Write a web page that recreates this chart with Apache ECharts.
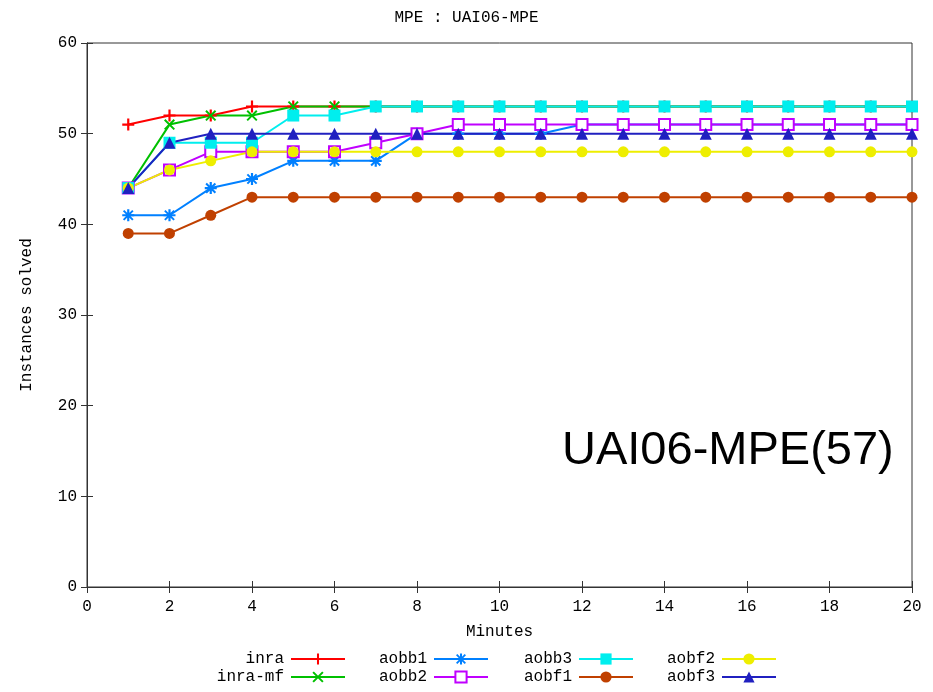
<!DOCTYPE html>
<html>
<head>
<meta charset="utf-8">
<script src="https://cdn.jsdelivr.net/npm/echarts@6/dist/echarts.min.js"></script>
<style>
  html, body { margin: 0; padding: 0; background: #fff; }
  #chart { width: 933px; height: 692px; }
</style>
</head>
<body>
<div id="chart"></div>
<script>
// Minutes elapsed (x) and cumulative number of solved instances (y)
const minutes = [1, 2, 3, 4, 5, 6, 7, 8, 9, 10, 11, 12, 13, 14, 15, 16, 17, 18, 19, 20];

const inra    = [51, 52, 52, 53, 53, 53, 53, 53, 53, 53, 53, 53, 53, 53, 53, 53, 53, 53, 53, 53];
const inraMf  = [44, 51, 52, 52, 53, 53, 53, 53, 53, 53, 53, 53, 53, 53, 53, 53, 53, 53, 53, 53];
const aobb1   = [41, 41, 44, 45, 47, 47, 47, 50, 50, 50, 50, 51, 51, 51, 51, 51, 51, 51, 51, 51];
const aobb2   = [44, 46, 48, 48, 48, 48, 49, 50, 51, 51, 51, 51, 51, 51, 51, 51, 51, 51, 51, 51];
const aobb3   = [44, 49, 49, 49, 52, 52, 53, 53, 53, 53, 53, 53, 53, 53, 53, 53, 53, 53, 53, 53];
const aobf1   = [39, 39, 41, 43, 43, 43, 43, 43, 43, 43, 43, 43, 43, 43, 43, 43, 43, 43, 43, 43];
const aobf2   = [44, 46, 47, 48, 48, 48, 48, 48, 48, 48, 48, 48, 48, 48, 48, 48, 48, 48, 48, 48];
const aobf3   = [44, 49, 50, 50, 50, 50, 50, 50, 50, 50, 50, 50, 50, 50, 50, 50, 50, 50, 50, 50];

const seriesNames = ['inra', 'inra-mf', 'aobb1', 'aobb2', 'aobb3', 'aobf1', 'aobf2', 'aobf3'];
const seriesValues = [inra, inraMf, aobb1, aobb2, aobb3, aobf1, aobf2, aobf3];

// Axis ranges and tick spacing
const xMin = 0, xMax = 20, xStep = 2;
const yMin = 0, yMax = 60, yStep = 10;

const chartTitle = 'MPE : UAI06-MPE';
const xTitle = 'Minutes';
const yTitle = 'Instances solved';
const annotation = 'UAI06-MPE(57)';

// Classic plotting-program palette and point shapes
const colors = ['#ff0000', '#00c000', '#0080ff', '#c000ff', '#00eeee', '#c04000', '#eeee00', '#2020c0'];
const PLUS = 'path://M0,4.5H11V6.5H0Z M4.5,0H6.5V11H4.5Z';
const CROSS = 'path://M0,1.4L1.4,0L11,9.6L9.6,11Z M9.6,0L11,1.4L1.4,11L0,9.6Z';
const STAR = 'path://M0,4.5H11V6.5H0Z M4.5,0H6.5V11H4.5Z M0.6,1.9L1.9,0.6L10.4,9.1L9.1,10.4Z M9.1,0.6L10.4,1.9L1.9,10.4L0.6,9.1Z';
const symbols = [PLUS, CROSS, STAR, 'emptyRect', 'rect', 'circle', 'circle', 'triangle'];
const symbolSizes = [12, 11, 12, 11, 12, 11, 11, 12];

const monoFont = '"Liberation Mono", "DejaVu Sans Mono", monospace';
const fontSize = 16;

const series = seriesNames.map((name, i) => ({
  name: name,
  type: 'line',
  data: minutes.map((m, k) => [m, seriesValues[i][k]]),
  symbol: symbols[i],
  symbolSize: symbolSizes[i],
  showAllSymbol: true,
  animation: false,
  color: colors[i],
  lineStyle: { width: 2, color: colors[i] },
  itemStyle: { color: colors[i], borderColor: colors[i], borderWidth: symbols[i] === 'emptyRect' ? 2 : 0 },
  emphasis: { disabled: true }
}));

// Legend: two rows, four columns; text sits to the left of each sample line
const legendRows = [
  ['inra', 'aobb1', 'aobb3', 'aobf2'],
  ['inra-mf', 'aobb2', 'aobf1', 'aobf3']
];
const legendColumnRight = [933 - 346, 933 - 489, 933 - 634, 933 - 777];
const legendRowTop = [651, 669];
const legends = [];
legendRows.forEach((row, r) => {
  row.forEach((name, c) => {
    legends.push({
      data: [name],
      right: legendColumnRight[c],
      top: legendRowTop[r],
      align: 'right',
      orient: 'horizontal',
      itemWidth: 54,
      itemHeight: 14,
      padding: 0,
      selectedMode: false,
      textStyle: { fontFamily: monoFont, fontSize: fontSize, color: '#000', padding: [0, 2, 0, 0] }
    });
  });
});

const axisLineStyle = { color: '#333', width: 1 };

const option = {
  backgroundColor: '#fff',
  animation: false,
  title: {
    text: chartTitle,
    left: 'center',
    top: 5,
    textStyle: { fontFamily: monoFont, fontSize: fontSize, fontWeight: 'normal', color: '#000' }
  },
  legend: legends,
  grid: { left: 87, right: 21, top: 43, bottom: 105, show: true, borderColor: '#333', borderWidth: 1 },
  xAxis: [
    {
      type: 'value', min: xMin, max: xMax, interval: xStep, position: 'bottom',
      name: xTitle, nameLocation: 'middle', nameGap: 37,
      nameTextStyle: { fontFamily: monoFont, fontSize: fontSize, color: '#000' },
      axisLine: { show: true, lineStyle: axisLineStyle },
      axisTick: { show: true, inside: true, length: 6, lineStyle: axisLineStyle },
      axisLabel: { fontFamily: monoFont, fontSize: fontSize, color: '#000', margin: 12 },
      splitLine: { show: false }
    },
    {
      type: 'value', min: xMin, max: xMax, interval: xStep, position: 'top',
      axisLine: { show: true, lineStyle: axisLineStyle },
      axisTick: { show: true, inside: true, length: 6, lineStyle: axisLineStyle },
      axisLabel: { show: false },
      splitLine: { show: false }
    }
  ],
  yAxis: [
    {
      type: 'value', min: yMin, max: yMax, interval: yStep, position: 'left',
      name: yTitle, nameLocation: 'middle', nameGap: 52, nameRotate: 90,
      nameTextStyle: { fontFamily: monoFont, fontSize: fontSize, color: '#000' },
      axisLine: { show: true, lineStyle: axisLineStyle },
      axisTick: { show: true, inside: true, length: 6, lineStyle: axisLineStyle },
      axisLabel: { fontFamily: monoFont, fontSize: fontSize, color: '#000', margin: 10 },
      splitLine: { show: false }
    },
    {
      type: 'value', min: yMin, max: yMax, interval: yStep, position: 'right',
      axisLine: { show: true, lineStyle: axisLineStyle },
      axisTick: { show: true, inside: true, length: 6, lineStyle: axisLineStyle },
      axisLabel: { show: false },
      splitLine: { show: false }
    }
  ],
  graphic: [{
    type: 'text',
    left: 562,
    top: 428,
    style: {
      text: annotation,
      font: '47px "Liberation Sans", Arial, sans-serif',
      fill: '#000'
    }
  }],
  series: series
};

const chart = echarts.init(document.getElementById('chart'), null, { renderer: 'canvas' });
chart.setOption(option);
</script>
</body>
</html>
